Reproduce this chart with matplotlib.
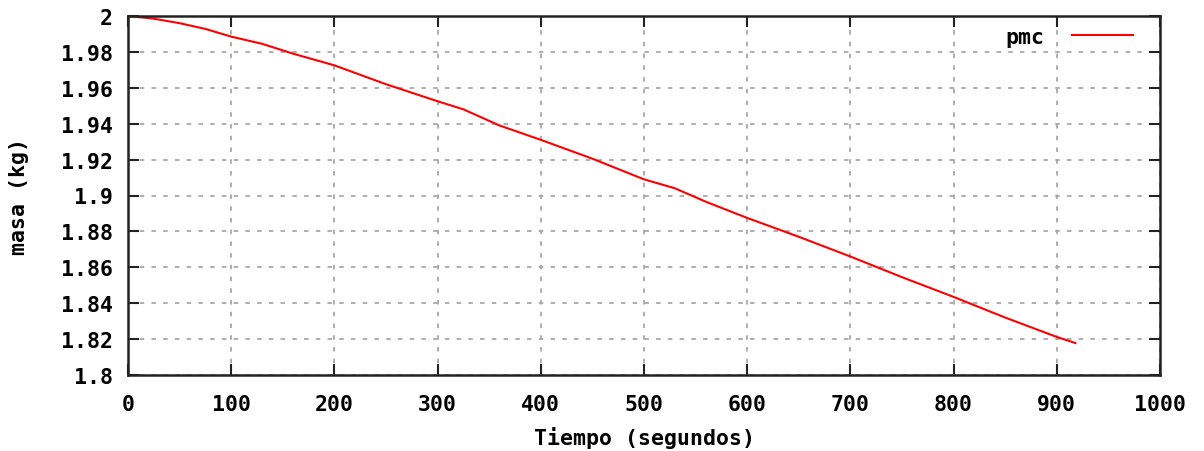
import matplotlib
matplotlib.use("Agg")
import matplotlib.pyplot as plt
from matplotlib.ticker import FixedLocator, FixedFormatter

# data
tiempo = [0, 25, 50, 75, 100, 130, 160, 200, 250, 300, 325, 360, 400, 450, 500, 530, 560, 600, 650, 700, 750, 800, 850, 900, 918]
masa = [2.0, 1.9985, 1.996, 1.9928, 1.9885, 1.9845, 1.979, 1.9725, 1.962, 1.9525, 1.948, 1.939, 1.931, 1.9205, 1.909, 1.904, 1.8965, 1.8875, 1.877, 1.866, 1.8545, 1.8435, 1.832, 1.8212, 1.8178]

yticks = [1.8, 1.82, 1.84, 1.86, 1.88, 1.9, 1.92, 1.94, 1.96, 1.98, 2.0]
ytick_labels = ["1.8", "1.82", "1.84", "1.86", "1.88", "1.9", "1.92", "1.94", "1.96", "1.98", "2"]
xticks = [0, 100, 200, 300, 400, 500, 600, 700, 800, 900, 1000]
xtick_labels = [str(v) for v in xticks]

FS = 15.5
font = {"family": "DejaVu Sans Mono", "weight": "bold", "size": FS}

fig = plt.figure(figsize=(12.04, 4.52), dpi=100)
ax = fig.add_axes([128/1204, 1-376/452, (1160-128)/1204, (376-17)/452])
ax.plot(tiempo, masa, color="#ff0000", lw=1.5, label="pmc")
ax.set_xlim(0, 1000)
ax.set_ylim(1.8, 2.0)
ax.xaxis.set_major_locator(FixedLocator(xticks))
ax.xaxis.set_major_formatter(FixedFormatter(xtick_labels))
ax.yaxis.set_major_locator(FixedLocator(yticks))
ax.yaxis.set_major_formatter(FixedFormatter(ytick_labels))
ax.tick_params(direction="in", length=8, width=1.5, top=True, right=True, color="#222222")
ax.tick_params(axis="x", pad=14)
ax.tick_params(axis="y", pad=11)
for lab in ax.get_xticklabels() + ax.get_yticklabels():
    lab.set_fontfamily(font["family"]); lab.set_fontweight("bold"); lab.set_fontsize(FS)
ax.grid(True, color="#a8a8a8", linestyle=(0, (2.5, 4)), lw=1.3)
for s in ax.spines.values():
    s.set_linewidth(1.8)
    s.set_color("#222222")
ax.set_xlabel("Tiempo (segundos)", fontdict=font, labelpad=8)
ax.set_ylabel("masa (kg)", fontdict=font, labelpad=23)
leg = ax.legend(loc="upper right", frameon=False, prop={"family": "DejaVu Sans Mono", "weight": "bold", "size": FS},
                markerfirst=False, handlelength=2.85, handletextpad=1.25, borderaxespad=0, borderpad=0,
                bbox_to_anchor=(1133/1204, 1-28/452), bbox_transform=fig.transFigure)
fig.savefig("out.png", dpi=100)
